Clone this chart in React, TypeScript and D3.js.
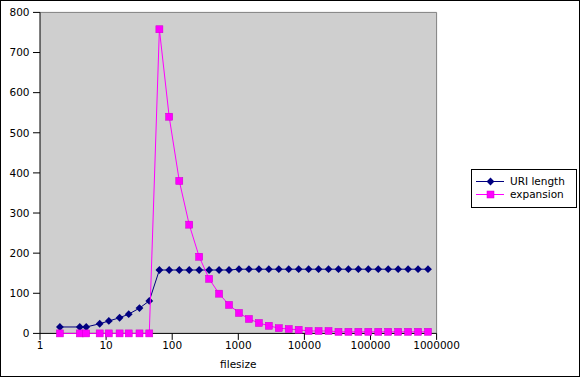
import React from "react";
import * as d3 from "d3";

const fileSizes = [2, 4, 5, 8, 11, 16, 22, 32, 45, 64, 90, 128, 181, 256, 362, 512, 724, 1024, 1448, 2048, 2896, 4096, 5792, 8192, 11585, 16384, 23170, 32768, 46340, 65536, 92681, 131072, 185363, 262144, 370727, 524288, 741455];
const uriLength = [16, 16, 16, 24, 31, 39, 48, 63, 81, 158, 158, 158, 158, 158, 158, 158, 158, 160, 160, 160, 160, 160, 160, 160, 160, 160, 160, 160, 160, 160, 160, 160, 160, 160, 160, 160, 160];
const expansion = [0, 0, 0, 0, 0, 0, 0, 0, 0, 758, 540, 380, 271, 191, 136, 99, 71, 51, 36, 26, 19, 13, 11, 9, 6, 6, 6, 4, 4, 4, 4, 4, 4, 4, 4, 4, 4];
const xTicks = [1, 10, 100, 1000, 10000, 100000, 1000000];
const yTicks = [0, 100, 200, 300, 400, 500, 600, 700, 800];
const seriesNames = ["URI length", "expansion"];

const W = 580, H = 377;
const L = 40, R = 436.6, T = 12.4, B = 333.4;
const FONT = "DejaVu Sans, sans-serif";
const NAVY = "#000080";
const MAG = "#ff00ff";

function diamond(cx: number, cy: number, r: number) {
  return `M${cx},${cy - r}L${cx + r},${cy}L${cx},${cy + r}L${cx - r},${cy}Z`;
}

export default function App() {
  const x = d3.scaleLog().domain([1, 1000000]).range([L, R]);
  const y = d3.scaleLinear().domain([0, 800]).range([B, T]);
  const uriData = fileSizes.map((s, i) => [s, uriLength[i]] as [number, number]);
  const expData = fileSizes.map((s, i) => [s, expansion[i]] as [number, number]);
  const line = d3.line<[number, number]>().x(d => x(d[0])).y(d => y(d[1]));
  const fmt = (v: number) => String(v);

  return (
    <svg width={W} height={H} style={{ position: "absolute", left: 0, top: 0 }} fontFamily={FONT}>
      <rect x={0} y={0} width={W} height={H} fill="#fff" />
      <rect x={L} y={T} width={R - L} height={B - T} fill="#cfcfcf" />
      <line x1={L} y1={T} x2={R} y2={T} stroke="#808080" strokeWidth={1} />
      <line x1={R} y1={T} x2={R} y2={B} stroke="#808080" strokeWidth={1} />
      {/* axes */}
      <line x1={L} y1={T} x2={L} y2={B} stroke="#000" strokeWidth={1} />
      <line x1={L} y1={B} x2={R} y2={B} stroke="#000" strokeWidth={1} />
      {yTicks.map(t => (
        <g key={"y" + t}>
          <line x1={L - 7} x2={L} y1={y(t)} y2={y(t)} stroke="#000" />
          <text x={29.5} y={y(t) + 3.8} fontSize={10.5} textAnchor="end" fill="#000">{fmt(t)}</text>
        </g>
      ))}
      {xTicks.map(t => (
        <g key={"x" + t}>
          <line x1={x(t)} x2={x(t)} y1={B} y2={B + 6.5} stroke="#000" />
          <text x={x(t)} y={348.5} fontSize={10.5} textAnchor="middle" fill="#000">{fmt(t)}</text>
        </g>
      ))}
      <text x={(L + R) / 2} y={368} fontSize={10.5} textAnchor="middle" fill="#000">filesize</text>
      {/* series */}
      <path d={line(uriData) || ""} fill="none" stroke={NAVY} strokeWidth={1} />
      {uriData.map((d, i) => (
        <path key={"u" + i} d={diamond(x(d[0]), y(d[1]), 3.9)} fill={NAVY} />
      ))}
      <path d={line(expData) || ""} fill="none" stroke={MAG} strokeWidth={1} />
      {expData.map((d, i) => (
        <rect key={"e" + i} x={x(d[0]) - 3.5} y={y(d[1]) - 3.5} width={7} height={7} fill={MAG} stroke="#cc00cc" strokeWidth={0.5} />
      ))}
      {/* legend */}
      <rect x={471.5} y={169.5} width={105} height={38} fill="#fff" stroke="#000" strokeWidth={1} />
      <line x1={476} x2={504} y1={181.5} y2={181.5} stroke={NAVY} />
      <path d={diamond(490.5, 181.5, 3.9)} fill={NAVY} />
      <text x={510} y={185.3} fontSize={10.5} fill="#000">{seriesNames[0]}</text>
      <line x1={476} x2={504} y1={194.5} y2={194.5} stroke={MAG} />
      <rect x={487} y={191} width={7} height={7} fill={MAG} stroke="#cc00cc" strokeWidth={0.5} />
      <text x={510} y={198.3} fontSize={10.5} fill="#000">{seriesNames[1]}</text>
      <rect x={0.5} y={0.5} width={W - 1} height={H - 1} fill="none" stroke="#000" strokeWidth={1} />
    </svg>
  );
}
